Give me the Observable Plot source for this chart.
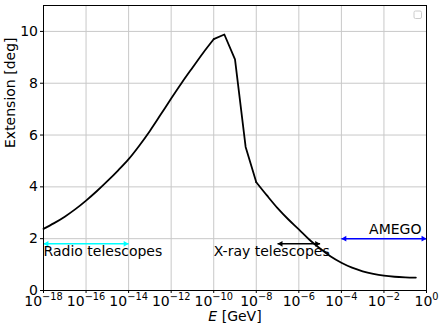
<!DOCTYPE html>
<html><head><meta charset="utf-8">
<script src="https://cdn.jsdelivr.net/npm/d3@7"></script>
<script src="https://cdn.jsdelivr.net/npm/@observablehq/plot@0.6"></script>
<style>body{margin:0;background:#fff} svg{font-family:"DejaVu Sans";}</style>
</head><body><div id="chart"></div>
<script>
// Energy samples (GeV), half-decade steps
const energy = [1e-18, 3.16e-18, 1e-17, 3.16e-17, 1e-16, 3.16e-16, 1e-15, 3.16e-15,
  1e-14, 3.16e-14, 1e-13, 3.16e-13, 1e-12, 3.16e-12, 1e-11, 3.16e-11,
  1e-10, 3.16e-10, 1e-9, 3.16e-9, 1e-8, 3.16e-8, 1e-7, 3.16e-7,
  1e-6, 3.16e-6, 1e-5, 3.16e-5, 1e-4, 3.16e-4, 1e-3, 3.16e-3,
  1e-2, 3.16e-2, 1e-1, 3.16e-1];
// Extension (deg)
const extension = [2.38, 2.60, 2.85, 3.14, 3.47, 3.83, 4.22, 4.63,
  5.07, 5.59, 6.16, 6.78, 7.41, 8.02, 8.60, 9.17,
  9.70, 9.88, 8.92, 5.54, 4.18, 3.67, 3.18, 2.75,
  2.36, 1.96, 1.62, 1.31, 1.07, 0.88, 0.74, 0.64,
  0.57, 0.53, 0.51, 0.50];

// Instrument bands
const instruments = ["Radio telescopes", "X-ray telescopes", "AMEGO"];
const bandStart = [1e-18, 1e-7, 1e-4];
const bandEnd = [1e-14, 1e-5, 1];
const bandLevel = [1.8, 1.8, 2.0];
const labelE = [1e-18, 1e-10, 2e-3];
const labelLevel = [1.35, 1.35, 2.2];

// Ticks
const xTicks = [1e-18, 1e-16, 1e-14, 1e-12, 1e-10, 1e-8, 1e-6, 1e-4, 1e-2, 1];
const xTickExp = ["−18", "−16", "−14", "−12", "−10", "−8", "−6", "−4", "−2", "0"];
const yTicks = [0, 2, 4, 6, 8, 10];

const W = 443, H = 332;
const rows = energy.map((e, i) => ({e, v: extension[i]}));
// smooth rise, sharp turnover around the peak, smooth tail
const rising = rows.filter(d => d.e <= 1e-10);
const turnover = rows.filter(d => d.e >= 1e-10 && d.e <= 1e-8);
const tail = rows.filter(d => d.e >= 1e-8);
const bands = instruments.map((name, i) => ({
  name, x1: bandStart[i], x2: bandEnd[i], y: bandLevel[i], lx: labelE[i], ly: labelLevel[i]
}));

const gridStyle = {stroke: "#c8c8c8", strokeOpacity: 1, strokeWidth: 1};
const lineStyle = {x: "e", y: "v", stroke: "black", strokeWidth: 1.8};

const plot = Plot.plot({
  width: W, height: H,
  marginLeft: 43, marginRight: 17, marginTop: 5, marginBottom: 42,
  style: {fontFamily: "DejaVu Sans", fontSize: "14px", background: "white", color: "black"},
  x: {type: "log", domain: [1e-18, 1], label: null},
  y: {domain: [0, 11], label: null},
  color: {domain: instruments, range: ["#00ffff", "#000000", "#0000ff"]},
  marks: [
    Plot.gridX(xTicks, gridStyle),
    Plot.gridY(yTicks, gridStyle),
    Plot.axisX(xTicks, {tickSize: 3, tickPadding: 3, label: null, fontSize: 14,
      tickFormat: d => "10^" + xTickExp[xTicks.indexOf(d)]}),
    Plot.axisY(yTicks, {tickSize: 3, tickPadding: 2.5, label: null, fontSize: 14,
      tickFormat: d => String(d)}),
    Plot.line(rising, {...lineStyle, curve: "monotone-x"}),
    Plot.line(turnover, {...lineStyle, curve: "linear"}),
    Plot.line(tail, {...lineStyle, curve: "monotone-x"}),
    Plot.link(bands, {x1: "x1", x2: "x2", y1: "y", y2: "y", stroke: "name", strokeWidth: 1.5}),
    Plot.dot(bands, {x: "x1", y: "y", fill: "name", symbol: "triangle", r: 2.1, rotate: -90, dx: 3.3}),
    Plot.dot(bands, {x: "x2", y: "y", fill: "name", symbol: "triangle", r: 2.1, rotate: 90, dx: -3.3}),
    Plot.text(bands, {x: "lx", y: "ly", text: "name", textAnchor: "start", lineAnchor: "bottom",
      fill: "black", fontSize: 14}),
    Plot.frame({stroke: "#000", strokeWidth: 1}),
    Plot.text(["E [GeV]"], {frameAnchor: "bottom", text: d => d, dy: 30.5, lineAnchor: "bottom",
      fill: "black", fontSize: 14}),
    Plot.text(["Extension [deg]"], {frameAnchor: "left", text: d => d, rotate: -90, dx: -38,
      lineAnchor: "top", fill: "black", fontSize: 14})
  ]
});

document.getElementById("chart").appendChild(plot);
const svg = d3.select(plot);

// Superscript exponents on the x tick labels
svg.selectAll("text").each(function() {
  const t = d3.select(this);
  const s = this.textContent;
  if (/^10\^/.test(s) && this.children.length === 0) {
    const exp = s.slice(3);
    t.text("");
    t.append("tspan").text("10");
    t.append("tspan").attr("dy", -6.7).attr("font-size", "9.8px").text(exp);
  } else if (s === "E [GeV]") {
    t.text("");
    t.append("tspan").attr("font-style", "italic").text("E");
    t.append("tspan").text(" [GeV]");
  }
});

// Empty matplotlib-style legend box in the upper right
svg.append("rect")
  .attr("x", W - 17 - 12).attr("y", 11)
  .attr("width", 7.5).attr("height", 7.5).attr("rx", 1.5)
  .attr("fill", "white").attr("stroke", "#cccccc").attr("stroke-width", 1);
</script>
</body></html>
